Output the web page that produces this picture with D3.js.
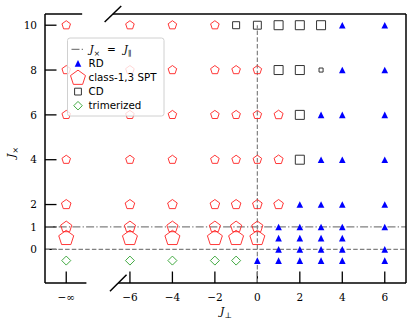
<!DOCTYPE html>
<html>
<head>
<meta charset="utf-8">
<script src="https://cdn.jsdelivr.net/npm/d3@7"></script>
<style>
  body { margin: 0; background: #fff; }
  text { font-family: "DejaVu Serif", serif; }
</style>
</head>
<body>
<svg id="chart" width="415" height="321"></svg>
<script>
// J_perp = -inf column is drawn at this position on the x axis
const NEG_INF = -9;

const xTicks = [NEG_INF, -6, -4, -2, 0, 2, 4, 6];
const xTickLabels = ["−∞", "−6", "−4", "−2", "0", "2", "4", "6"];
const yTicks = [0, 1, 2, 4, 6, 8, 10];

// [J_perp, J_x]
const rdPoints = [
  [0, -0.5],
  [1, 1], [1, 0.5], [1, 0], [1, -0.5],
  [2, 2], [2, 1], [2, 0.5], [2, 0], [2, -0.5],
  [3, 6], [3, 4], [3, 2], [3, 1], [3, 0.5], [3, 0], [3, -0.5],
  [4, 10], [4, 8], [4, 6], [4, 4], [4, 2], [4, 1], [4, 0.5], [4, 0], [4, -0.5],
  [6, 10], [6, 8], [6, 6], [6, 4], [6, 2], [6, 1], [6, 0], [6, -0.5]
];

// [J_perp, J_x, relative marker weight]
const sptPoints = [
  [NEG_INF, 10, 1], [NEG_INF, 8, 1], [NEG_INF, 6, 1], [NEG_INF, 4, 1], [NEG_INF, 2, 1.12], [NEG_INF, 1, 1.3], [NEG_INF, 0.5, 1.75],
  [-6, 10, 1], [-6, 8, 1], [-6, 6, 1], [-6, 4, 1], [-6, 2, 1.12], [-6, 1, 1.3], [-6, 0.5, 1.75],
  [-4, 10, 1], [-4, 8, 1], [-4, 6, 1], [-4, 4, 1], [-4, 2, 1.12], [-4, 1, 1.3], [-4, 0.5, 1.75],
  [-2, 10, 1], [-2, 8, 1], [-2, 6, 1], [-2, 4, 1], [-2, 2, 1.12], [-2, 1, 1.3], [-2, 0.5, 1.75],
  [-1, 8, 1], [-1, 6, 1], [-1, 4, 1], [-1, 2, 1.12], [-1, 1, 1.3], [-1, 0.5, 1.75],
  [0, 8, 1], [0, 6, 1], [0, 4, 1], [0, 2, 1.12], [0, 1, 1.3], [0, 0.5, 1.75],
  [1, 6, 1.05], [1, 4, 1.05], [1, 2, 1.12]
];

// [J_perp, J_x, relative marker weight]
const cdPoints = [
  [-1, 10, 0.78], [0, 10, 0.88], [1, 10, 1], [2, 10, 1], [3, 10, 1],
  [1, 8, 1], [2, 8, 1], [3, 8, 0.45],
  [2, 6, 1],
  [2, 4, 1]
];

const trimPoints = [
  [NEG_INF, -0.5], [-6, -0.5], [-4, -0.5], [-2, -0.5], [-1, -0.5]
];

const legendLabels = ["RD", "class-1,3 SPT", "CD", "trimerized"];

const svg = d3.select('#chart');

const x = d3.scaleLinear().domain([-10, 7]).range([45, 406]);
const y = d3.scaleLinear().domain([-1.5, 10.5]).range([283, 14]);

const pentR = d3.scaleLinear().domain([0, 1]).range([0, 4.5]);
const sqSide = d3.scaleLinear().domain([0, 1]).range([0, 9]);

const RED = "#ff2020", BLUE = "#0000ff", GREEN = "#2ca02c", DARK = "#333333", GREY = "#808080";

function pentagon(r) {
  const pts = d3.range(5).map(k => {
    const a = -Math.PI / 2 + k * 2 * Math.PI / 5;
    return [r * Math.cos(a), r * Math.sin(a)];
  });
  return "M" + pts.join("L") + "Z";
}
function triangle(s) {
  const h = s / 2;
  return `M0,${-h}L${h},${h}L${-h},${h}Z`;
}
function square(s) {
  const h = s / 2;
  return `M${-h},${-h}H${h}V${h}H${-h}Z`;
}
function diamond(s) {
  const h = s / 2;
  return `M0,${-h}L${h},0L0,${h}L${-h},0Z`;
}

svg.append('clipPath').attr('id', 'plotclip')
  .append('rect')
  .attr('x', x.range()[0]).attr('y', y.range()[1])
  .attr('width', x.range()[1] - x.range()[0])
  .attr('height', y.range()[0] - y.range()[1]);

// ticks (inward)
const axes = svg.append('g');
axes.selectAll('line.xt').data(xTicks).enter().append('line')
  .attr('x1', d => x(d)).attr('x2', d => x(d))
  .attr('y1', y.range()[0]).attr('y2', y.range()[0] - 11.5)
  .attr('stroke', '#000').attr('stroke-width', 1.3);
axes.selectAll('text.xt').data(xTicks).enter().append('text')
  .attr('x', d => x(d)).attr('y', 300.5)
  .attr('text-anchor', 'middle').attr('font-size', 10.5)
  .text((d, i) => xTickLabels[i]);

axes.selectAll('line.yt').data(yTicks).enter().append('line')
  .attr('x1', x.range()[0]).attr('x2', x.range()[0] + 11.5)
  .attr('y1', d => y(d)).attr('y2', d => y(d))
  .attr('stroke', '#000').attr('stroke-width', 1.3);
axes.selectAll('text.yt').data(yTicks).enter().append('text')
  .attr('x', 37).attr('y', d => y(d) + 3.7)
  .attr('text-anchor', 'end').attr('font-size', 10.5)
  .text(d => d);

// reference lines
const lines = svg.append('g').attr('clip-path', 'url(#plotclip)');
lines.append('line')
  .attr('x1', x(0)).attr('x2', x(0))
  .attr('y1', y(-1.5)).attr('y2', y(10))
  .attr('stroke', GREY).attr('stroke-width', 1.2)
  .attr('stroke-dasharray', '4.5,2.2');
lines.append('line')
  .attr('x1', x(-10)).attr('x2', x(7))
  .attr('y1', y(0)).attr('y2', y(0))
  .attr('stroke', GREY).attr('stroke-width', 1.2)
  .attr('stroke-dasharray', '4.5,2.2');
lines.append('line')
  .attr('x1', x(-10)).attr('x2', x(7))
  .attr('y1', y(1)).attr('y2', y(1))
  .attr('stroke', GREY).attr('stroke-width', 1.2)
  .attr('stroke-dasharray', '8,2.2,1.3,2.2');

// markers
const marks = svg.append('g');
marks.selectAll('path.spt').data(sptPoints).enter().append('path')
  .attr('class', 'spt')
  .attr('d', d => pentagon(pentR(d[2])))
  .attr('transform', d => `translate(${x(d[0])},${y(d[1])})`)
  .attr('fill', 'none').attr('stroke', RED).attr('stroke-width', 0.9);

marks.selectAll('path.cd').data(cdPoints).enter().append('path')
  .attr('class', 'cd')
  .attr('d', d => square(sqSide(d[2])))
  .attr('transform', d => `translate(${x(d[0])},${y(d[1])})`)
  .attr('fill', 'none').attr('stroke', DARK).attr('stroke-width', 1);

marks.selectAll('path.trim').data(trimPoints).enter().append('path')
  .attr('class', 'trim')
  .attr('d', diamond(9))
  .attr('transform', d => `translate(${x(d[0])},${y(d[1])})`)
  .attr('fill', 'none').attr('stroke', GREEN).attr('stroke-width', 0.9);

marks.selectAll('path.rd').data(rdPoints).enter().append('path')
  .attr('class', 'rd')
  .attr('d', triangle(6.6))
  .attr('transform', d => `translate(${x(d[0])},${y(d[1])})`)
  .attr('fill', BLUE);

// spines with the broken x axis
const sp = svg.append('g').attr('stroke', '#000').attr('stroke-width', 1.5).attr('fill', 'none');
const [x0, x1] = x.range(), [yb, yt] = y.range();
sp.append('line').attr('x1', x0).attr('x2', x0).attr('y1', yt).attr('y2', yb);
sp.append('line').attr('x1', x1).attr('x2', x1).attr('y1', yt).attr('y2', yb);
// top: left piece, break, main piece
sp.append('line').attr('x1', x0).attr('x2', x(-8.25)).attr('y1', yt).attr('y2', yt);
sp.append('line').attr('x1', x(-6.8)).attr('x2', x1).attr('y1', yt).attr('y2', yt);
sp.append('line').attr('x1', x(-6.8) - 8.3).attr('y1', yt + 8).attr('x2', x(-6.8) + 8.3).attr('y2', yt - 8);
// bottom
sp.append('line').attr('x1', x0).attr('x2', x(-8.05)).attr('y1', yb).attr('y2', yb);
sp.append('line').attr('x1', x(-6.55)).attr('x2', x1).attr('y1', yb).attr('y2', yb);
sp.append('line').attr('x1', x(-6.55) - 8.3).attr('y1', yb + 8.3).attr('x2', x(-6.55) + 8.3).attr('y2', yb - 8.3);

// axis labels
function mathLabel(t, main, sub, size) {
  t.append('tspan').attr('font-style', 'italic').text(main);
  t.append('tspan').attr('font-size', size * 0.72).attr('dy', size * 0.3).text(sub);
}
const xl = svg.append('text').attr('x', 220).attr('y', 315).attr('font-size', 11);
mathLabel(xl, 'J', '⊥', 11);
const yl = svg.append('text').attr('transform', 'translate(15,158) rotate(-90)').attr('font-size', 11);
mathLabel(yl, 'J', '×', 11);

// legend
const lg = svg.append('g');
lg.append('rect').attr('x', 67.5).attr('y', 38).attr('width', 96.5).attr('height', 78).attr('rx', 2.5)
  .attr('fill', '#fff').attr('fill-opacity', 0.8).attr('stroke', '#d0d0d0').attr('stroke-width', 1);

const rowY = d3.scaleLinear().domain([0, 4]).range([49.3, 105.7]);
const mx = 78, tx = 88.5;

lg.append('line').attr('x1', mx - 6.5).attr('x2', mx + 6.5).attr('y1', rowY(0)).attr('y2', rowY(0))
  .attr('stroke', GREY).attr('stroke-width', 1.2).attr('stroke-dasharray', '8,2.2,1.3,2.2');
const ml = lg.append('text').attr('x', tx + 1).attr('y', rowY(0) + 3.8).attr('font-size', 10.5);
ml.append('tspan').attr('font-style', 'italic').text('J');
ml.append('tspan').attr('font-size', 7.5).attr('dy', 3).text('×');
ml.append('tspan').attr('dy', -3).attr('dx', 7).text('=');
ml.append('tspan').attr('dx', 8).attr('font-style', 'italic').text('J');
ml.append('tspan').attr('font-size', 7.5).attr('dy', 3).text('∥');

lg.append('path').attr('d', triangle(6.6)).attr('transform', `translate(${mx},${rowY(1)})`).attr('fill', BLUE);
lg.append('path').attr('d', pentagon(pentR(1.75))).attr('transform', `translate(${mx},${rowY(2) + 0.5})`)
  .attr('fill', 'none').attr('stroke', RED).attr('stroke-width', 0.9);
lg.append('path').attr('d', square(6.8)).attr('transform', `translate(${mx},${rowY(3)})`)
  .attr('fill', 'none').attr('stroke', DARK).attr('stroke-width', 1);
lg.append('path').attr('d', diamond(8.5)).attr('transform', `translate(${mx},${rowY(4)})`)
  .attr('fill', 'none').attr('stroke', GREEN).attr('stroke-width', 0.9);

lg.selectAll('text.lab').data(legendLabels).enter().append('text')
  .attr('x', tx).attr('y', (d, i) => rowY(i + 1) + 3.7)
  .style('font-family', '"DejaVu Sans", sans-serif').attr('font-size', 10.3)
  .text(d => d);
</script>
</body>
</html>
